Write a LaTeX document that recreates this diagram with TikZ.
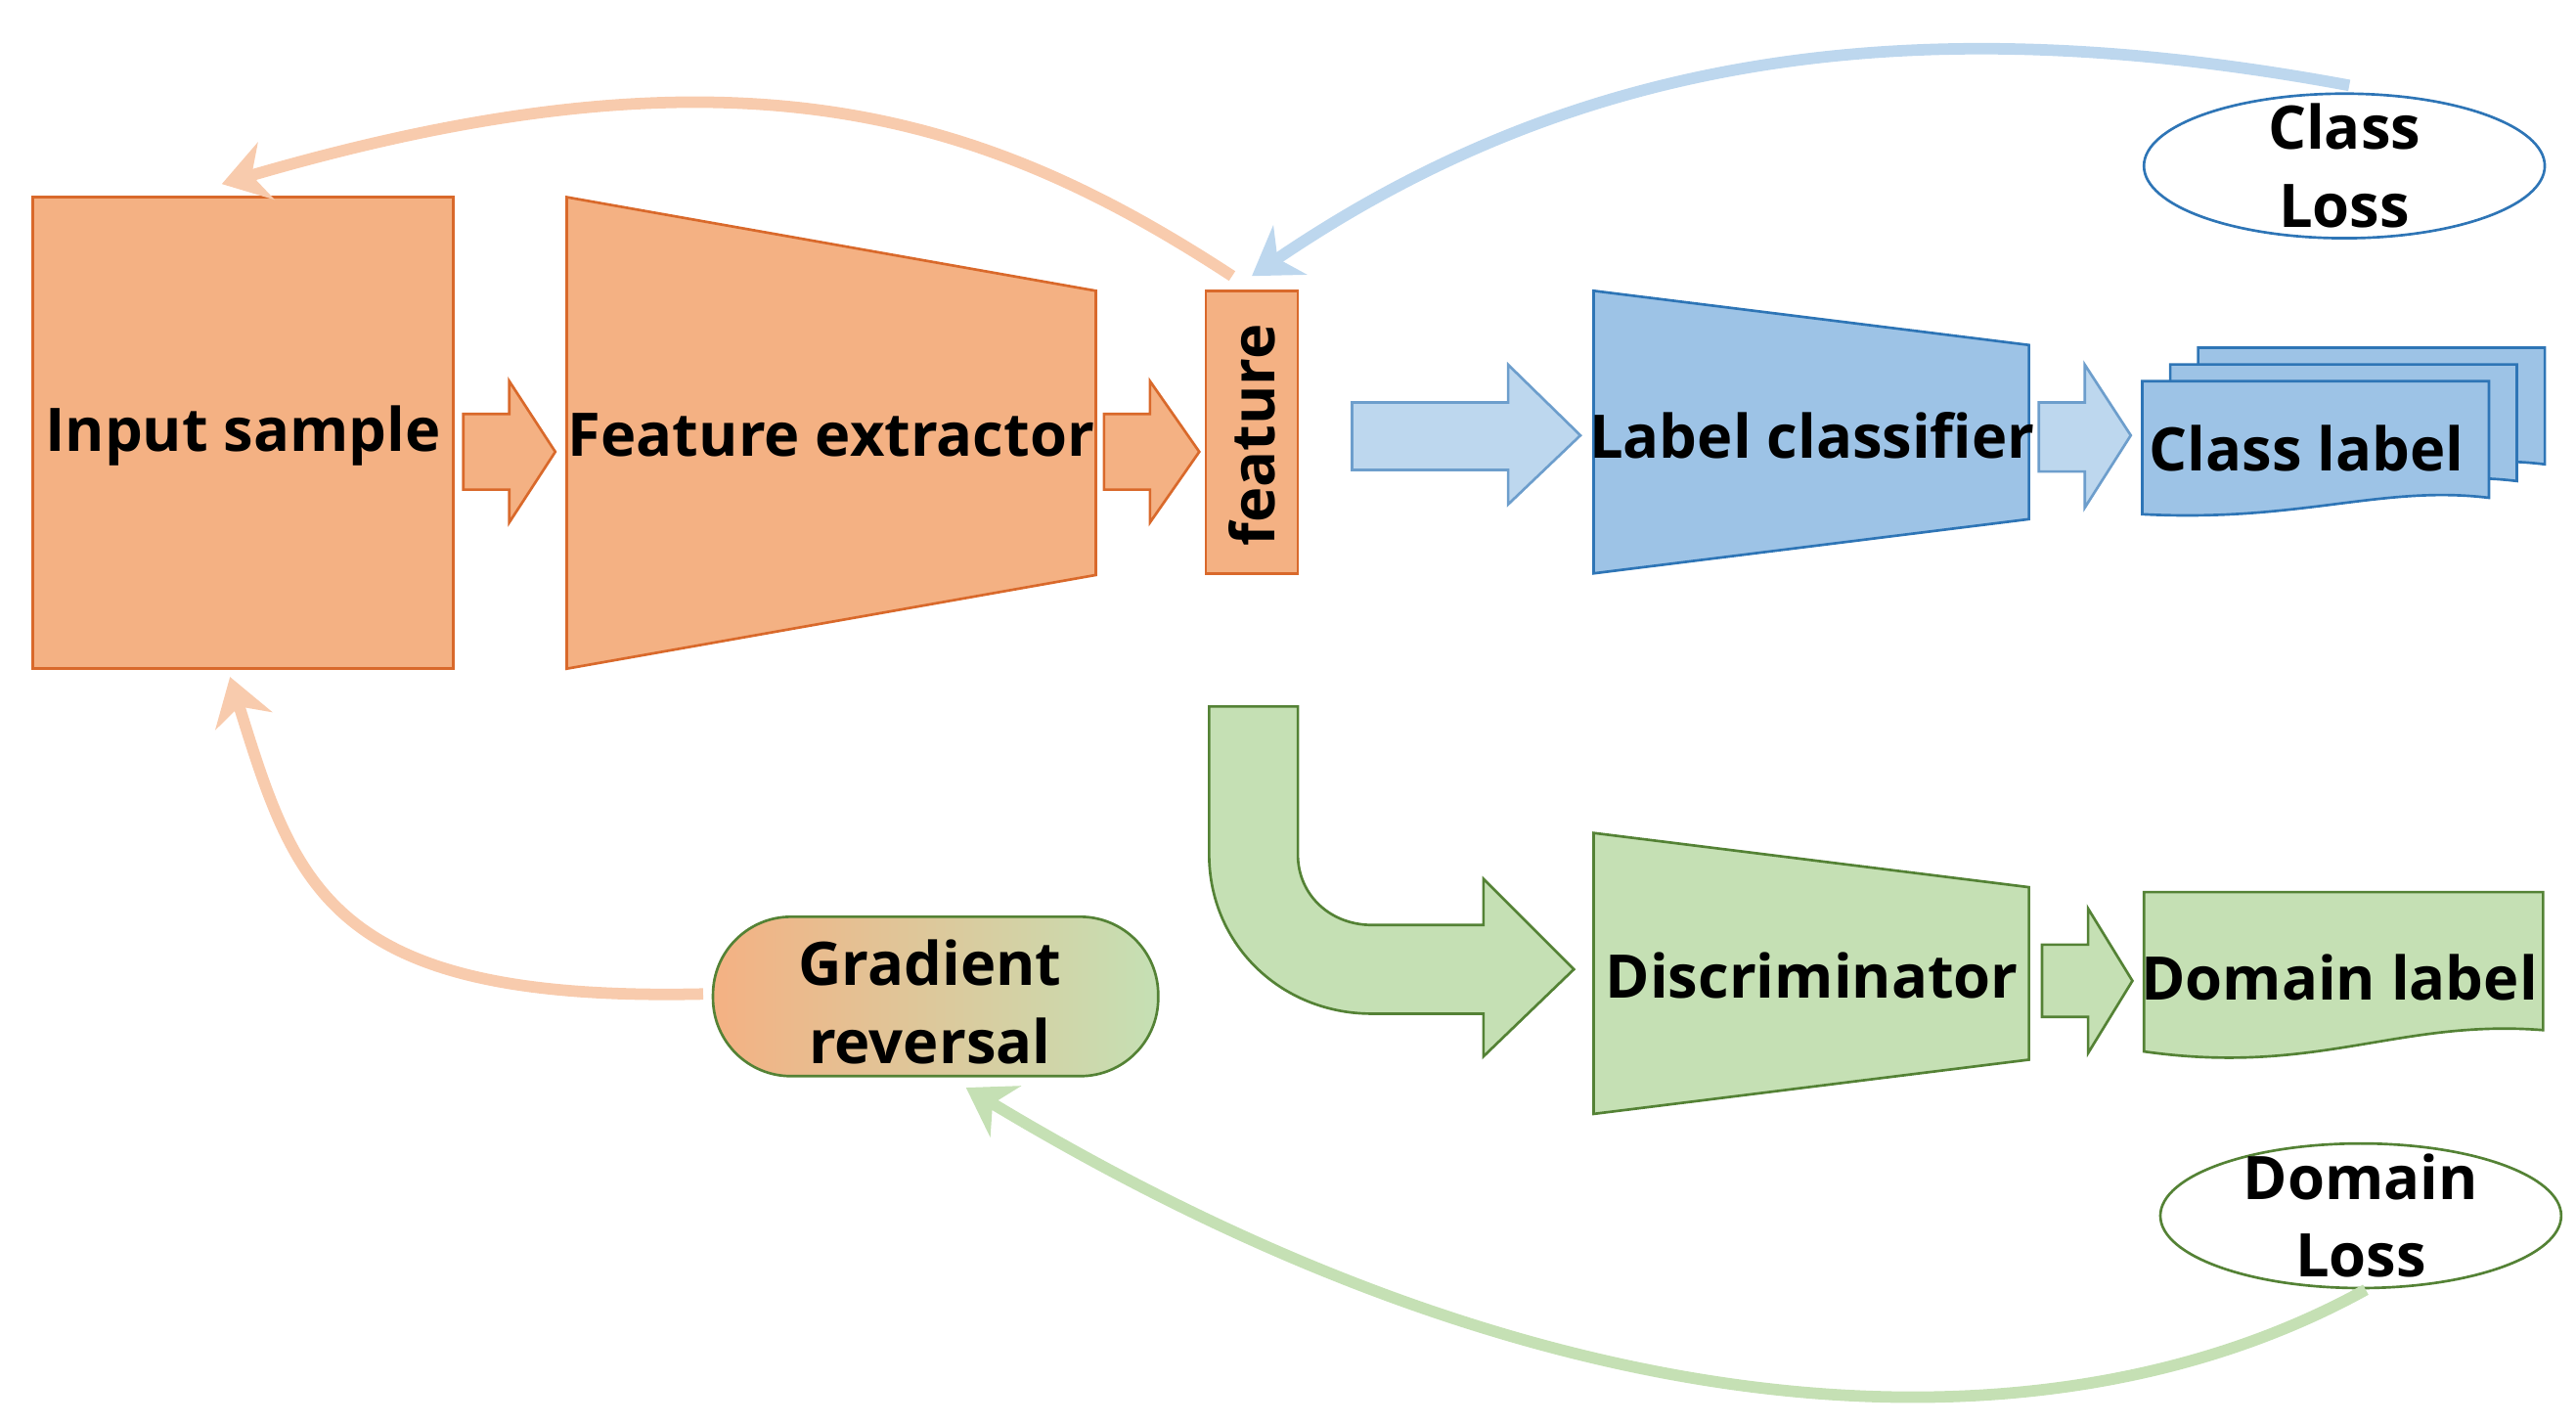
\documentclass[tikz,border=0pt]{standalone}
\usepackage{fontspec}
\setmainfont{Open Sans}
\usetikzlibrary{arrows.meta,shapes.geometric}
\definecolor{orF}{HTML}{F4B183}\definecolor{orD}{HTML}{D9692B}
\definecolor{blL}{HTML}{BDD7EE}\definecolor{blF}{HTML}{9DC3E6}\definecolor{blD}{HTML}{2E75B6}
\definecolor{grF}{HTML}{C5E0B4}\definecolor{grD}{HTML}{548235}\definecolor{orL}{HTML}{F8CBAD}
\tikzset{
 txt/.style={font=\bfseries\fontsize{10.4}{13.5}\selectfont, align=center, inner sep=0},
 osh/.style={fill=orF, draw=orD, line width=0.45pt},
 bsh/.style={fill=blF, draw=blD, line width=0.45pt},
 blsh/.style={fill=blL, draw=blD!70, line width=0.45pt},
 gsh/.style={fill=grF, draw=grD, line width=0.45pt},
 back/.style={line width=0.07cm, -{Stealth[length=0.28cm,width=0.36cm]}},
}
\begin{document}
\begin{tikzpicture}[x=0.01cm,y=-0.01cm]
\useasboundingbox (0,0) rectangle (1568,867);
% orange side
\draw[osh] (20,120) rectangle (276,407);
\node[txt] (inp) at (148,265) {Input sample};
\draw[osh] (282,252)--(310,252)--(310,232)--(338,275)--(310,318)--(310,298)--(282,298)--cycle;
\draw[osh] (345,120)--(667,177)--(667,350)--(345,407)--cycle;
\node[txt] (fe) at (506,265) {Feature extractor};
\draw[osh] (672,252)--(700,252)--(700,232)--(730,275)--(700,318)--(700,298)--(672,298)--cycle;
\draw[osh] (734,177) rectangle (790,349);
\node[txt,rotate=90] (feat) at (762,265) {feature};
% blue side
\draw[blsh] (823,245)--(918,245)--(918,222)--(962,265)--(918,307)--(918,286)--(823,286)--cycle;
\draw[bsh] (970,177)--(1235,210)--(1235,316)--(970,349)--cycle;
\node[txt] (lc) at (1103,265) {Label classifier};
\draw[blsh] (1241,245)--(1269,245)--(1269,222)--(1297,265)--(1269,309)--(1269,287)--(1241,287)--cycle;
\foreach \d in {34,17,0}{
\draw[bsh] (1304+\d,232-\d*0.6)--(1515+\d,232-\d*0.6)--(1515+\d,303-\d*0.6) .. controls (1450+\d,295-\d*0.6) and (1400+\d,318-\d*0.6) .. (1304+\d,313-\d*0.6)--cycle;}
\node[txt] (cl) at (1404,273) {Class label};
\draw[draw=blD, line width=0.45pt, fill=white] (1427,101) ellipse (122 and 44);
\node[txt] (closs) at (1427,101) {Class\\Loss};
% green side
\draw[gsh] (736,430)--(790,430)--(790,520) .. controls (790,545) and (810,563) .. (835,563)--(903,563)--(903,535)--(958,590)--(903,643)--(903,617)--(835,617) .. controls (780,617) and (736,575) .. (736,520)--cycle;
\draw[gsh] (970,507)--(1235,540)--(1235,645)--(970,678)--cycle;
\node[txt] (disc) at (1103,594) {Discriminator};
\draw[gsh] (1243,575)--(1271,575)--(1271,553)--(1298,597)--(1271,641)--(1271,619)--(1243,619)--cycle;
\draw[gsh] (1305,543)--(1548,543)--(1548,627) .. controls (1460,620) and (1410,655) .. (1305,640)--cycle;
\node[txt] (dl) at (1424,595) {Domain label};
\draw[draw=grD, line width=0.45pt, fill=white] (1437,740) ellipse (122 and 44);
\node[txt] (dloss) at (1437,740) {Domain\\Loss};
% gradient reversal
\shade[left color=orF, right color=grF, rounded corners=13.5pt] (434,558) rectangle (705,655);
\draw[draw=grD, line width=0.45pt, rounded corners=13.5pt] (434,558) rectangle (705,655);
\node[txt] (gr) at (566,610) {Gradient\\reversal};
% back-prop curves
\coordinate (c1) at (1430,52); \coordinate (c2) at (762,168);
\draw[back, draw=blL] (c1) .. controls (1150,0) and (950,40) .. (c2);
\coordinate (o1) at (750,168); \coordinate (o2) at (135,112);
\draw[back, draw=orL] (o1) .. controls (600,70) and (450,20) .. (o2);
\coordinate (g1) at (1440,785); \coordinate (g2) at (588,662);
\draw[back, draw=grF] (g1) .. controls (1250,890) and (950,880) .. (g2);
\coordinate (r1) at (428,605); \coordinate (r2) at (140,412);
\draw[back, draw=orL] (r1) .. controls (200,610) and (180,540) .. (r2);
\end{tikzpicture}
\end{document}
